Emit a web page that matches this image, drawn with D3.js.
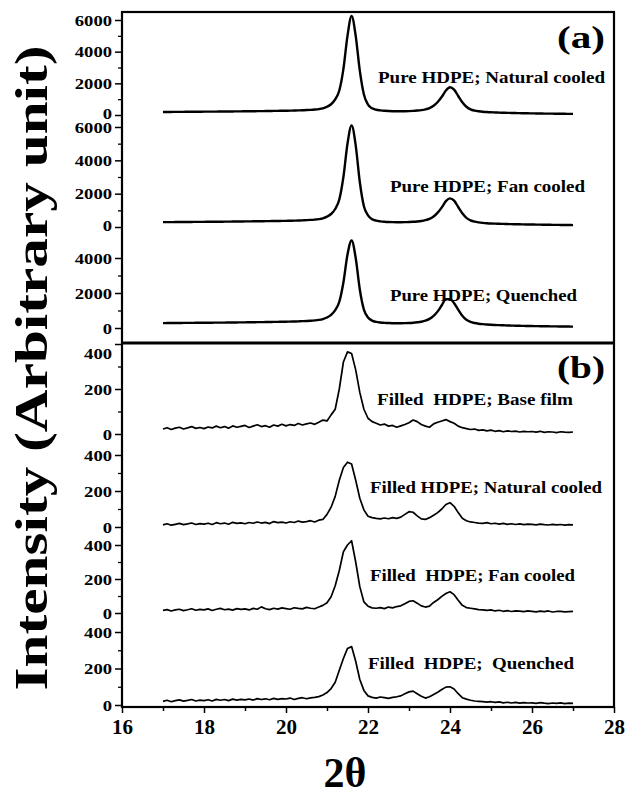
<!DOCTYPE html>
<html>
<head>
<meta charset="utf-8">
<script src="https://cdn.jsdelivr.net/npm/d3@7/dist/d3.min.js"></script>
<style>
  html, body { margin: 0; padding: 0; background: #fff; }
  svg { display: block; }
  text { font-family: "Liberation Serif", "Times New Roman", serif; font-weight: bold; fill: #000; }
</style>
</head>
<body>
<svg id="chart" width="625" height="796"></svg>
<script>
// ---------------- DATA ----------------
const twoTheta = [
  17.0,17.1,17.2,17.3,17.4,17.5,17.6,17.7,17.8,17.9,
  18.0,18.1,18.2,18.3,18.4,18.5,18.6,18.7,18.8,18.9,
  19.0,19.1,19.2,19.3,19.4,19.5,19.6,19.7,19.8,19.9,
  20.0,20.1,20.2,20.3,20.4,20.5,20.6,20.7,20.8,20.9,
  21.0,21.1,21.2,21.3,21.4,21.5,21.6,21.7,21.8,21.9,
  22.0,22.1,22.2,22.3,22.4,22.5,22.6,22.7,22.8,22.9,
  23.0,23.1,23.2,23.3,23.4,23.5,23.6,23.7,23.8,23.9,
  24.0,24.1,24.2,24.3,24.4,24.5,24.6,24.7,24.8,24.9,
  25.0,25.1,25.2,25.3,25.4,25.5,25.6,25.7,25.8,25.9,
  26.0,26.1,26.2,26.3,26.4,26.5,26.6,26.7,26.8,26.9,
  27.0
];

// (a) Pure HDPE
const pureNatural = [
  190,192,194,196,198,200,202,204,206,208,
  210,212,214,216,218,220,222,225,228,231,
  234,237,240,243,246,250,254,258,262,266,
  270,276,282,290,300,312,326,345,372,420,
  520,680,980,1550,2900,5000,6250,5000,2800,1300,
  650,420,330,290,265,250,240,235,235,238,
  245,258,280,310,360,440,580,820,1150,1550,
  1750,1600,1200,800,520,360,280,235,205,185,
  170,160,150,142,135,128,122,116,111,106,
  102,98,94,90,87,84,81,78,75,72,
  70
];
const pureFan = [
  290,292,294,296,298,300,302,304,306,308,
  310,312,314,316,318,320,323,326,329,332,
  335,338,341,344,347,350,354,358,362,366,
  370,376,382,390,400,412,426,445,472,520,
  620,780,1080,1650,3000,5000,6100,4900,2700,1250,
  700,470,380,340,315,300,292,288,288,292,
  300,312,332,362,410,490,630,860,1180,1550,
  1720,1580,1200,820,550,400,320,275,245,225,
  210,200,192,185,178,172,166,161,156,152,
  148,144,140,136,133,130,127,124,121,118,
  115
];
const pureQuenched = [
  280,282,284,286,288,290,292,294,296,298,
  300,302,304,306,308,310,312,315,318,321,
  324,327,330,333,336,340,344,348,352,356,
  360,366,372,380,390,402,416,435,462,510,
  600,750,1020,1500,2600,4200,5000,4000,2200,1050,
  600,420,350,315,295,282,275,272,272,276,
  285,300,325,360,420,520,690,950,1300,1650,
  1650,1420,1050,700,470,350,285,245,220,200,
  185,172,162,153,145,138,132,126,121,116,
  112,108,104,100,97,94,91,88,85,82,
  80
];

// (b) Filled HDPE
const filledBase = [
  22,28,20,26,30,22,27,33,25,29,
  24,31,27,35,28,33,26,36,30,34,
  38,29,35,41,33,37,30,40,35,43,
  36,42,38,47,40,45,49,43,52,62,
  58,85,110,200,320,365,358,285,185,110,
  70,55,48,40,44,35,38,30,36,42,
  50,62,55,42,35,30,45,52,58,64,
  55,48,35,28,24,20,22,16,18,14,
  17,12,15,10,14,11,13,9,12,10,
  11,8,12,7,10,9,6,10,8,7,
  9
];
const filledNatural = [
  12,18,10,15,20,13,17,22,14,19,
  16,21,14,24,18,22,15,26,20,23,
  18,25,21,28,22,26,19,30,24,27,
  22,29,25,33,27,30,35,28,38,42,
  70,110,170,260,330,360,350,260,160,95,
  60,52,48,45,50,46,52,48,55,70,
  85,82,62,45,42,52,65,80,100,125,
  135,115,80,48,35,28,25,22,20,24,
  18,21,16,20,15,18,14,17,13,16,
  15,12,16,13,11,15,12,14,10,13,
  12
];
const filledFan = [
  15,20,12,18,22,14,19,25,16,21,
  18,24,15,22,27,19,23,17,26,21,
  24,18,27,22,36,25,20,28,23,30,
  26,22,31,27,24,33,28,25,35,45,
  60,96,160,250,360,400,425,300,155,65,
  40,30,28,32,26,35,30,38,42,55,
  68,72,58,42,35,40,62,78,98,115,
  125,108,75,45,32,28,24,20,18,15,
  18,12,16,10,14,9,13,11,8,12,
  10,7,11,8,12,6,9,10,7,8,
  9
];
const filledQuenched = [
  20,26,18,24,28,21,25,30,22,27,
  24,29,22,31,26,30,24,32,27,31,
  28,33,27,35,30,34,29,36,31,35,
  33,38,30,36,40,34,39,42,46,55,
  68,90,125,190,255,310,320,240,140,80,
  50,42,38,44,40,36,42,45,50,62,
  72,76,62,48,38,45,58,70,85,98,
  100,88,62,40,32,26,22,20,18,16,
  18,14,17,12,15,11,14,10,13,11,
  12,9,13,10,8,11,9,12,8,10,
  9
];

const seriesNames = [
  "Pure HDPE; Natural cooled",
  "Pure HDPE; Fan cooled",
  "Pure HDPE; Quenched",
  "Filled  HDPE; Base film",
  "Filled HDPE; Natural cooled",
  "Filled  HDPE; Fan cooled",
  "Filled  HDPE;  Quenched"
];
const panelLetters = ["(a)", "(b)"];

const xTicks = [16, 18, 20, 22, 24, 26, 28];
const xMinorTicks = [17, 19, 21, 23, 25, 27];
const pureTicksBig = [0, 2000, 4000, 6000];
const pureTicksSmall = [0, 2000, 4000];
const pureMinor = [1000, 3000, 5000];
const pureMinorSmall = [1000, 3000];
const filledTicks = [0, 200, 400];
const filledMinor = [100, 300];

const yTitle = "Intensity (Arbitrary unit)";
const xTitle = "2\u03B8";

// ---------------- LAYOUT ----------------
(function draw() {
const svg = d3.select("#chart");
svg.append("rect").attr("width", 625).attr("height", 796).attr("fill", "#fff");

const padL = 122, padR = 614, padT = 12, padB = 707;
const x = d3.scaleLinear().domain([16, 28]).range([padL, padR]);

const tracks = [
  { data: pureNatural,   dom: [0, 6000], rng: [115, 20],  major: pureTicksBig,   minor: pureMinor,      label: seriesNames[0], lx: 378, ly: 83,  lw: 227, thick: 2.4, smooth: true, zeroUp: true },
  { data: pureFan,       dom: [0, 6000], rng: [227, 127], major: pureTicksBig,   minor: pureMinor,      label: seriesNames[1], lx: 390, ly: 192, lw: 195, thick: 2.4, smooth: true, zeroUp: true },
  { data: pureQuenched,  dom: [0, 4000], rng: [328, 258], major: pureTicksSmall, minor: pureMinorSmall, label: seriesNames[2], lx: 390, ly: 301, lw: 187, thick: 2.4, smooth: true },
  { data: filledBase,    dom: [0, 400],  rng: [434, 344], major: filledTicks,    minor: filledMinor,    label: seriesNames[3], lx: 377, ly: 405, lw: 196, thick: 1.7, smooth: false, topLabelShift: true },
  { data: filledNatural, dom: [0, 400],  rng: [527, 455], major: filledTicks,    minor: filledMinor,    label: seriesNames[4], lx: 370, ly: 493, lw: 232, thick: 1.7, smooth: false },
  { data: filledFan,     dom: [0, 400],  rng: [613, 545], major: filledTicks,    minor: filledMinor,    label: seriesNames[5], lx: 370, ly: 581, lw: 205, thick: 1.7, smooth: false },
  { data: filledQuenched,dom: [0, 400],  rng: [705, 632], major: filledTicks,    minor: filledMinor,    label: seriesNames[6], lx: 368, ly: 669, lw: 206, thick: 1.7, smooth: false }
];

tracks.forEach((t) => {
  const y = d3.scaleLinear().domain(t.dom).range(t.rng);
  const minorAxis = d3.axisLeft(y).tickValues(t.minor).tickSize(4).tickFormat("");
  const gm = svg.append("g").attr("transform", `translate(${padL},0)`).call(minorAxis);
  gm.select(".domain").remove();
  gm.selectAll("line").attr("stroke", "#000").attr("stroke-width", 1.3);
  const majorAxis = d3.axisLeft(y).tickValues(t.major).tickSize(7).tickPadding(3).tickFormat(d3.format("d"));
  const g = svg.append("g").attr("transform", `translate(${padL},0)`).call(majorAxis);
  g.select(".domain").remove();
  g.selectAll("line").attr("stroke", "#000").attr("stroke-width", 1.5);
  g.selectAll("text")
    .attr("font-size", 15)
    .attr("font-family", "Liberation Serif")
    .attr("font-weight", "bold")
    .attr("fill", "#000")
    .attr("textLength", d => String(d).length * 9.3)
    .attr("lengthAdjust", "spacingAndGlyphs")
    .attr("dy", d => (t.topLabelShift && d === t.major[t.major.length - 1]) ? "0.95em"
                   : (t.zeroUp && d === 0) ? "0.2em" : "0.34em");

  const line = d3.line()
    .x((d, j) => x(twoTheta[j]))
    .y(d => y(d))
    .curve(t.smooth ? d3.curveMonotoneX : d3.curveLinear);
  svg.append("path")
    .datum(t.data)
    .attr("d", line)
    .attr("fill", "none")
    .attr("stroke", "#000")
    .attr("stroke-width", t.thick)
    .attr("stroke-linejoin", "round");

  svg.append("text")
    .attr("x", t.lx).attr("y", t.ly)
    .attr("font-size", 16)
    .attr("textLength", t.lw)
    .attr("lengthAdjust", "spacingAndGlyphs")
    .style("white-space", "pre")
    .text(t.label);
});

svg.append("rect")
  .attr("x", padL).attr("y", padT)
  .attr("width", padR - padL).attr("height", padB - padT)
  .attr("fill", "none").attr("stroke", "#000").attr("stroke-width", 2.2);
svg.append("line")
  .attr("x1", padL).attr("x2", padR).attr("y1", 343).attr("y2", 343)
  .attr("stroke", "#000").attr("stroke-width", 3);

const xMinorAxis = d3.axisBottom(x).tickValues(xMinorTicks).tickSize(4).tickFormat("");
const gxm = svg.append("g").attr("transform", `translate(0,${padB})`).call(xMinorAxis);
gxm.select(".domain").remove();
gxm.selectAll("line").attr("stroke", "#000").attr("stroke-width", 1.5);
const xAxis = d3.axisBottom(x).tickValues(xTicks).tickSize(6).tickPadding(6).tickFormat(d3.format("d"));
const gx = svg.append("g").attr("transform", `translate(0,${padB})`).call(xAxis);
gx.select(".domain").remove();
gx.selectAll("line").attr("stroke", "#000").attr("stroke-width", 1.5);
gx.selectAll("text")
  .attr("font-size", 21)
  .attr("font-family", "Liberation Serif")
  .attr("font-weight", "bold")
  .attr("fill", "#000");

svg.append("text").attr("x", 557).attr("y", 48).attr("font-size", 32)
  .attr("textLength", 48).attr("lengthAdjust", "spacingAndGlyphs").text(panelLetters[0]);
svg.append("text").attr("x", 557).attr("y", 378).attr("font-size", 32)
  .attr("textLength", 48).attr("lengthAdjust", "spacingAndGlyphs").text(panelLetters[1]);

svg.append("text")
  .attr("transform", "translate(47,368) rotate(-90)")
  .attr("text-anchor", "middle")
  .attr("font-size", 47)
  .attr("textLength", 645)
  .attr("lengthAdjust", "spacingAndGlyphs")
  .text(yTitle);
svg.append("text")
  .attr("x", 345).attr("y", 787)
  .attr("text-anchor", "middle")
  .attr("font-size", 42)
  .text(xTitle);
})();
</script>
</body>
</html>
